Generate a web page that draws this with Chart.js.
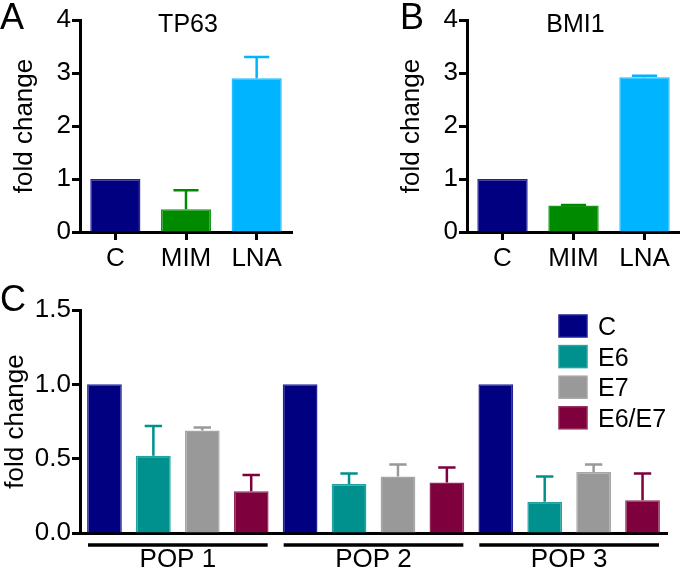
<!DOCTYPE html>
<html>
<head>
<meta charset="utf-8">
<script src="https://cdn.jsdelivr.net/npm/chart.js@4.4.0/dist/chart.umd.min.js"></script>
<style>
  html, body { margin: 0; padding: 0; background: #fff; }
  #wrap { position: relative; width: 680px; height: 568px; overflow: hidden; }
  .panel { position: absolute; }
</style>
</head>
<body>
<div id="wrap">
  <div class="panel" style="left:0;top:0;width:340px;height:290px"><canvas id="chartA"></canvas></div>
  <div class="panel" style="left:340px;top:0;width:340px;height:290px"><canvas id="chartB"></canvas></div>
  <div class="panel" style="left:0;top:270px;width:680px;height:298px"><canvas id="chartC"></canvas></div>
</div>
<script>
// panels A and B
const treatments = ['C', 'MIM', 'LNA'];
const tp63Values = [1.0, 0.43, 2.9];
const tp63Errors = [0, 0.36, 0.4];
const bmi1Values = [1.0, 0.5, 2.92];
const bmi1Errors = [0, 0.01, 0.03];
const topTicks = [0, 1, 2, 3, 4];

// panel C
const populations = ['POP 1', 'POP 2', 'POP 3'];
const cValues = [1.0, 1.0, 1.0];
const cErrors = [0, 0, 0];
const e6Values = [0.52, 0.33, 0.21];
const e6Errors = [0.20, 0.07, 0.17];
const e7Values = [0.69, 0.38, 0.41];
const e7Errors = [0.02, 0.08, 0.05];
const e6e7Values = [0.28, 0.34, 0.22];
const e6e7Errors = [0.11, 0.10, 0.18];
const bottomTicks = [0, 0.5, 1.0, 1.5];

const FONT = '"Liberation Sans", Arial, sans-serif';

// error bars drawn upward from each bar top
const errorBars = {
    id: 'errorBars',
    afterDatasetsDraw(chart) {
        const ctx = chart.ctx;
        const yScale = chart.scales.y;
        chart.data.datasets.forEach((ds, i) => {
            if (!ds.errors) return;
            chart.getDatasetMeta(i).data.forEach((bar, j) => {
                const err = ds.errors[j];
                if (!err) return;
                const yTop = yScale.getPixelForValue(ds.data[j] + err);
                const cap = bar.width / 4;
                ctx.save();
                ctx.strokeStyle = Array.isArray(ds.backgroundColor) ? ds.backgroundColor[j] : ds.backgroundColor;
                ctx.lineWidth = 2.5;
                ctx.beginPath();
                ctx.moveTo(bar.x, bar.y);
                ctx.lineTo(bar.x, yTop);
                ctx.moveTo(bar.x - cap, yTop);
                ctx.lineTo(bar.x + cap, yTop);
                ctx.stroke();
                ctx.restore();
            });
        });
    }
};

// panel letter and gene title
const panelText = {
    id: 'panelText',
    afterDraw(chart, args, opts) {
        const ctx = chart.ctx;
        const area = chart.chartArea;
        ctx.save();
        ctx.fillStyle = '#000';
        ctx.textBaseline = 'alphabetic';
        if (opts.letter) {
            ctx.font = '36px ' + FONT;
            ctx.textAlign = 'left';
            ctx.fillText(opts.letter, opts.letterX, opts.letterY);
        }
        if (opts.title) {
            ctx.font = '25px ' + FONT;
            ctx.textAlign = 'center';
            ctx.fillText(opts.title, (area.left + area.right) / 2 + 2, opts.titleY);
        }
        ctx.restore();
    }
};

// lines under each population
const groupLines = {
    id: 'groupLines',
    afterDraw(chart) {
        const ctx = chart.ctx;
        const x = chart.scales.x;
        const half = x.width / chart.data.labels.length / 2;
        const y = chart.chartArea.bottom + 12;
        ctx.save();
        ctx.strokeStyle = '#000';
        ctx.lineWidth = 3.5;
        chart.data.labels.forEach((lbl, i) => {
            const cx = x.getPixelForTick(i);
            ctx.beginPath();
            ctx.moveTo(cx - half + 8, y);
            ctx.lineTo(cx + half - 8, y);
            ctx.stroke();
        });
        ctx.restore();
    }
};

// square legend at top right of panel C
const boxLegend = {
    id: 'boxLegend',
    afterDraw(chart, args, o) {
        const ctx = chart.ctx;
        ctx.save();
        chart.data.datasets.forEach((ds, i) => {
            const cy = o.y + i * o.step;
            ctx.fillStyle = ds.backgroundColor;
            ctx.fillRect(o.x, cy - o.h / 2, o.w, o.h);
            ctx.strokeStyle = ds.borderColor;
            ctx.lineWidth = 1.5;
            ctx.strokeRect(o.x, cy - o.h / 2, o.w, o.h);
            ctx.fillStyle = '#000';
            ctx.font = '25px ' + FONT;
            ctx.textAlign = 'left';
            ctx.textBaseline = 'alphabetic';
            ctx.fillText(ds.label, o.textX, cy + 9);
        });
        ctx.restore();
    }
};

function yAxis(ticks, titlePad, fmt) {
    return {
        min: ticks[0],
        max: ticks[ticks.length - 1],
        afterBuildTicks: s => { s.ticks = ticks.map(v => ({ value: v })); },
        afterFit: s => { s.width = 80; },
        border: { display: true, color: '#000', width: 3 },
        grid: { drawOnChartArea: false, drawTicks: true, tickLength: 8, tickWidth: 3, color: '#000' },
        ticks: {
            color: '#000',
            padding: 1,
            font: { family: FONT, size: 26 },
            callback: fmt
        },
        title: {
            display: true,
            text: 'fold change',
            color: '#000',
            padding: { top: titlePad, bottom: 0 },
            font: { family: FONT, size: 26 }
        }
    };
}

function topChart(id, labels, values, errors, letter, letterX, title, padLeft, padRight) {
    const colors = ['#000080', '#008a00', '#00b4ff'];
    const borders = ['#22229a', '#1a961a', '#20bcff'];
    new Chart(document.getElementById(id), {
        type: 'bar',
        data: {
            labels: labels,
            datasets: [{
                data: values,
                errors: errors,
                backgroundColor: colors,
                borderColor: borders,
                borderWidth: 1.5,
                barPercentage: 0.71,
                categoryPercentage: 1
            }]
        },
        options: {
            responsive: true,
            maintainAspectRatio: false,
            animation: false,
            layout: { padding: { top: 20, left: padLeft, right: padRight, bottom: 0 } },
            plugins: {
                legend: { display: false },
                tooltip: { enabled: false },
                panelText: { letter: letter, letterX: letterX, letterY: 29, title: title, titleY: 32 }
            },
            scales: {
                x: {
                    afterFit: s => { s.height = 58; },
                    border: { display: true, color: '#000', width: 3 },
                    grid: { offset: false, drawOnChartArea: false, drawTicks: true, tickLength: 8, tickWidth: 3, color: '#000' },
                    ticks: { color: '#000', padding: 3, font: { family: FONT, size: 26 } }
                },
                y: yAxis(topTicks, 9, v => v)
            }
        },
        plugins: [errorBars, panelText]
    });
}

topChart('chartA', treatments, tp63Values, tp63Errors, 'A', 0, 'TP63', 0, 48);
topChart('chartB', treatments, bmi1Values, bmi1Errors, 'B', 60, 'BMI1', 47, 0);

function series(label, values, errors, color, border) {
    return {
        label: label,
        data: values,
        errors: errors,
        backgroundColor: color,
        borderColor: border,
        borderWidth: 1.5,
        barPercentage: 0.71,
        categoryPercentage: 1
    };
}

new Chart(document.getElementById('chartC'), {
    type: 'bar',
    data: {
        labels: populations,
        datasets: [
            series('C', cValues, cErrors, '#000080', '#22229a'),
            series('E6', e6Values, e6Errors, '#00918e', '#22a3a0'),
            series('E7', e7Values, e7Errors, '#999999', '#a6a6a6'),
            series('E6/E7', e6e7Values, e6e7Errors, '#7e003c', '#93295a')
        ]
    },
    options: {
        responsive: true,
        maintainAspectRatio: false,
        animation: false,
        layout: { padding: { top: 40, left: 0, right: 13, bottom: 0 } },
        plugins: {
            legend: { display: false },
            tooltip: { enabled: false },
            panelText: { letter: 'C', letterX: 0, letterY: 41 },
            boxLegend: { x: 559, y: 56, step: 30.6, w: 28, h: 22, textX: 598 }
        },
        scales: {
            x: {
                afterFit: s => { s.height = 35; },
                border: { display: true, color: '#000', width: 3 },
                grid: { display: false, drawTicks: false },
                ticks: { color: '#000', padding: 11, font: { family: FONT, size: 26 } }
            },
            y: yAxis(bottomTicks, 0, v => Number(v).toFixed(1))
        }
    },
    plugins: [errorBars, panelText, groupLines, boxLegend]
});
</script>
</body>
</html>
